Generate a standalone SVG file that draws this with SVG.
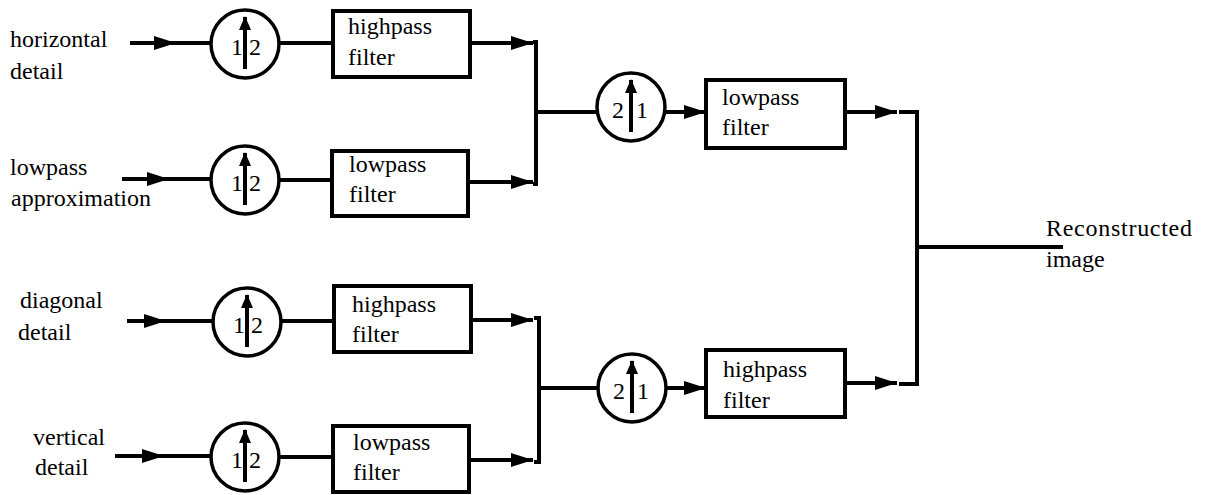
<svg xmlns="http://www.w3.org/2000/svg" width="1206" height="495" viewBox="0 0 1206 495">
<defs>
<marker id="ah" markerUnits="userSpaceOnUse" markerWidth="24" markerHeight="16" refX="22" refY="8" orient="auto" viewBox="0 0 24 16">
<path d="M0,1 L22,8 L0,15 z" fill="#000"/>
</marker>
<marker id="uh" markerUnits="userSpaceOnUse" markerWidth="14" markerHeight="16" refX="13" refY="7" orient="auto" viewBox="0 0 14 14">
<path d="M0,1 L14,7 L0,13 z" fill="#000"/>
</marker>
<g id="up12">
<circle r="34" fill="#fff" stroke="#000" stroke-width="3.5"/>
<text x="-14" y="11" style="font-family:'Liberation Serif',serif;font-size:24px;fill:#000">1</text>
<text x="4" y="11" style="font-family:'Liberation Serif',serif;font-size:24px;fill:#000">2</text>
<line x1="0" y1="25" x2="0" y2="-27" stroke="#000" stroke-width="4" marker-end="url(#uh)"/>
</g>
<g id="up21">
<circle r="34" fill="#fff" stroke="#000" stroke-width="3.5"/>
<text x="-19" y="11" style="font-family:'Liberation Serif',serif;font-size:24px;fill:#000">2</text>
<text x="5" y="11" style="font-family:'Liberation Serif',serif;font-size:24px;fill:#000">1</text>
<line x1="0" y1="25" x2="0" y2="-27" stroke="#000" stroke-width="4" marker-end="url(#uh)"/>
</g>
</defs>

<g id="labels">
<text x="10" y="47" style="font-family:'Liberation Serif',serif;font-size:24px;fill:#000">horizontal</text>
<text x="10" y="79" style="font-family:'Liberation Serif',serif;font-size:24px;fill:#000">detail</text>
<text x="10" y="175" style="font-family:'Liberation Serif',serif;font-size:24px;fill:#000">lowpass</text>
<text x="11" y="206" style="font-family:'Liberation Serif',serif;font-size:24px;fill:#000">approximation</text>
<text x="20" y="308" style="font-family:'Liberation Serif',serif;font-size:24px;fill:#000">diagonal</text>
<text x="18" y="340" style="font-family:'Liberation Serif',serif;font-size:24px;fill:#000">detail</text>
<text x="33" y="445" style="font-family:'Liberation Serif',serif;font-size:24px;fill:#000">vertical</text>
<text x="35" y="475" style="font-family:'Liberation Serif',serif;font-size:24px;fill:#000">detail</text>
<text x="1046" y="236" style="font-family:'Liberation Serif',serif;font-size:24px;fill:#000" textLength="146">Reconstructed</text>
<text x="1046" y="267" style="font-family:'Liberation Serif',serif;font-size:24px;fill:#000">image</text>
</g>

<g id="connectors" fill="none" stroke="#000" stroke-width="4">
<line x1="130" y1="43" x2="176" y2="43" marker-end="url(#ah)"/>
<line x1="174" y1="43" x2="212" y2="43"/>
<line x1="122" y1="179" x2="169" y2="179" marker-end="url(#ah)"/>
<line x1="167" y1="179" x2="212" y2="179"/>
<line x1="127" y1="321" x2="166" y2="321" marker-end="url(#ah)"/>
<line x1="164" y1="321" x2="214" y2="321"/>
<line x1="115" y1="456" x2="164" y2="456" marker-end="url(#ah)"/>
<line x1="162" y1="456" x2="212" y2="456"/>

<line x1="278" y1="43" x2="333" y2="43"/>
<line x1="278" y1="180" x2="332" y2="180"/>
<line x1="280" y1="321" x2="334" y2="321"/>
<line x1="278" y1="457" x2="333" y2="457"/>

<line x1="470" y1="43" x2="533" y2="43" marker-end="url(#ah)"/>
<line x1="468" y1="182" x2="533" y2="182" marker-end="url(#ah)"/>
<path d="M533,42 H536 V184 H533 M536,112 H598"/>

<line x1="472" y1="320" x2="533" y2="320" marker-end="url(#ah)"/>
<line x1="470" y1="460" x2="533" y2="460" marker-end="url(#ah)"/>
<path d="M534,318 H539 V462 H534 M539,388 H599"/>

<line x1="665" y1="112" x2="706" y2="112" marker-end="url(#ah)"/>
<line x1="666" y1="388" x2="706" y2="388" marker-end="url(#ah)"/>

<line x1="845" y1="112" x2="897" y2="112" marker-end="url(#ah)"/>
<line x1="845" y1="383" x2="897" y2="383" marker-end="url(#ah)"/>
<path d="M899,112 H917 V384 H899 M917,247 H1063"/>
</g>

<g id="up1"><use href="#up12" x="245" y="44"/></g>
<g id="up2"><use href="#up12" x="245" y="180"/></g>
<g id="up3"><use href="#up12" x="247" y="322"/></g>
<g id="up4"><use href="#up12" x="245" y="457"/></g>
<g id="up5"><use href="#up21" x="631" y="107"/></g>
<g id="up6"><use href="#up21" x="632" y="388"/></g>

<g id="hp1"><rect x="333" y="11" width="137" height="66" fill="#fff" stroke="#000" stroke-width="4"/>
<text x="348" y="34" style="font-family:'Liberation Serif',serif;font-size:24px;fill:#000">highpass</text><text x="348" y="65" style="font-family:'Liberation Serif',serif;font-size:24px;fill:#000">filter</text></g>
<g id="lp1"><rect x="332" y="151" width="136" height="65" fill="#fff" stroke="#000" stroke-width="4"/>
<text x="349" y="172" style="font-family:'Liberation Serif',serif;font-size:24px;fill:#000">lowpass</text><text x="349" y="202" style="font-family:'Liberation Serif',serif;font-size:24px;fill:#000">filter</text></g>
<g id="hp2"><rect x="334" y="286" width="137" height="66" fill="#fff" stroke="#000" stroke-width="4"/>
<text x="352" y="312" style="font-family:'Liberation Serif',serif;font-size:24px;fill:#000">highpass</text><text x="352" y="342" style="font-family:'Liberation Serif',serif;font-size:24px;fill:#000">filter</text></g>
<g id="lp2"><rect x="333" y="426" width="136" height="66" fill="#fff" stroke="#000" stroke-width="4"/>
<text x="353" y="450" style="font-family:'Liberation Serif',serif;font-size:24px;fill:#000">lowpass</text><text x="353" y="480" style="font-family:'Liberation Serif',serif;font-size:24px;fill:#000">filter</text></g>
<g id="lp3"><rect x="706" y="80" width="139" height="68" fill="#fff" stroke="#000" stroke-width="4"/>
<text x="722" y="105" style="font-family:'Liberation Serif',serif;font-size:24px;fill:#000">lowpass</text><text x="722" y="135" style="font-family:'Liberation Serif',serif;font-size:24px;fill:#000">filter</text></g>
<g id="hp3"><rect x="706" y="350" width="139" height="67" fill="#fff" stroke="#000" stroke-width="4"/>
<text x="723" y="377" style="font-family:'Liberation Serif',serif;font-size:24px;fill:#000">highpass</text><text x="723" y="408" style="font-family:'Liberation Serif',serif;font-size:24px;fill:#000">filter</text></g>
</svg>
